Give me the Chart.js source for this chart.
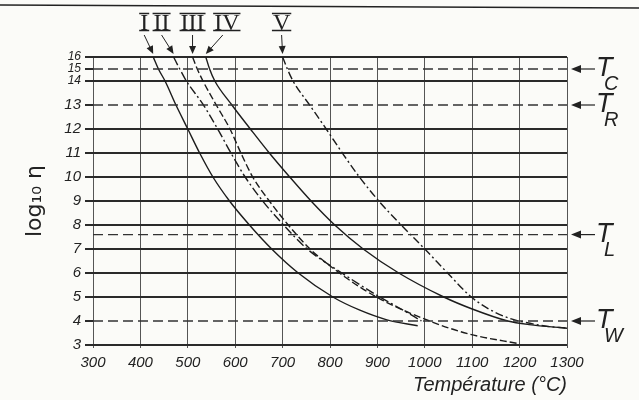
<!DOCTYPE html>
<html>
<head>
<meta charset="utf-8">
<script src="https://cdn.jsdelivr.net/npm/chart.js@4.4.1/dist/chart.umd.min.js"></script>
<style>
  html, body { margin: 0; padding: 0; background: #fbfbf8; }
  #wrap { width: 639px; height: 400px; }
</style>
</head>
<body>
<div id="wrap"><canvas id="viscChart" width="639" height="400"></canvas></div>
<script>
// temperature axis (°C)
const xMin = 300;
const xMax = 1300;
const xStep = 100;

// log10 viscosity ticks (14..16 are drawn at half spacing)
const yTicks = [3, 4, 5, 6, 7, 8, 9, 10, 11, 12, 13, 14, 15, 16];
const yBreak = 14;

// curve labels
const curveNames = ["I", "II", "III", "IV", "V"];

const tempI = [427, 438, 452, 475, 500, 525, 553, 588, 630, 677, 733, 806, 863, 920, 985];
const logI = [16, 15, 14, 13, 12, 11, 10, 9, 8, 7, 6, 5, 4.45, 4.05, 3.8];

const tempII = [470, 483, 497, 533, 563, 591, 621, 658, 702, 752, 825, 905, 950, 993];
const logII = [16, 15, 14, 13, 12, 11, 10, 9, 8, 7, 6, 5, 4.5, 4.0];

const tempIII = [510, 520, 532, 560, 589, 612, 637, 672, 712, 758, 820, 898, 1010, 1095, 1200];
const logIII = [16, 15, 14, 13, 12, 11, 10, 9, 8, 7, 6, 5, 4.0, 3.45, 3.05];

const tempIV = [538, 546, 557, 593, 632, 672, 715, 760, 810, 870, 945, 1040, 1100, 1175, 1220, 1300];
const logIV = [16, 15, 14, 13, 12, 11, 10, 9, 8, 7, 6, 5, 4.5, 4.0, 3.85, 3.7];

const tempV = [700, 710, 722, 757, 792, 826, 862, 903, 950, 1000, 1048, 1098, 1135, 1180, 1210, 1250, 1300];
const logV = [16, 15, 14, 13, 12, 11, 10, 9, 8, 7, 6, 5, 4.5, 4.1, 3.95, 3.8, 3.7];

// characteristic viscosity levels T_C, T_R, T_L, T_W
const refLevels = [15, 13, 7.6, 4];
const refNames = ["C", "R", "L", "W"];

const ink = "#222";
const curveDash = [[], [9, 3, 2, 3], [7, 3], [], [8, 3, 2, 3]];
const labelShift = [-9, -12, 0, 21, -1];

function squash(v) {
  return v <= yBreak ? v : yBreak + (v - yBreak) / 2;
}
function unsquash(v) {
  return v <= yBreak ? v : yBreak + (v - yBreak) * 2;
}

class BrokenScale extends Chart.LinearScale {
  getPixelForValue(value) {
    return super.getPixelForValue(squash(value));
  }
  getValueForPixel(pixel) {
    return unsquash(super.getValueForPixel(pixel));
  }
}
BrokenScale.id = "broken";
BrokenScale.defaults = Chart.LinearScale.defaults;
Chart.register(BrokenScale);

function zip(xs, ys) {
  return xs.map((x, i) => ({ x: x, y: ys[i] }));
}

const curves = [
  { t: tempI, v: logI },
  { t: tempII, v: logII },
  { t: tempIII, v: logIII },
  { t: tempIV, v: logIV },
  { t: tempV, v: logV }
];

const curveSets = curves.map((c, i) => ({
  label: curveNames[i],
  data: zip(c.t, c.v),
  borderColor: "#1c1c1c",
  borderWidth: 1.4,
  borderDash: curveDash[i],
  pointRadius: 0,
  cubicInterpolationMode: "monotone",
  fill: false
}));

const refSets = refLevels.map((lv, i) => ({
  label: "T" + refNames[i],
  data: [{ x: xMin, y: lv }, { x: xMax, y: lv }],
  borderColor: "#333",
  borderWidth: 1.4,
  borderDash: [10, 5],
  pointRadius: 0,
  fill: false
}));

function arrow(ctx, x0, y0, x1, y1, len, half) {
  const a = Math.atan2(y1 - y0, x1 - x0);
  ctx.beginPath();
  ctx.moveTo(x0, y0);
  ctx.lineTo(x1 - Math.cos(a) * len * 0.6, y1 - Math.sin(a) * len * 0.6);
  ctx.stroke();
  ctx.beginPath();
  ctx.moveTo(x1, y1);
  ctx.lineTo(x1 - Math.cos(a) * len + Math.sin(a) * half, y1 - Math.sin(a) * len - Math.cos(a) * half);
  ctx.lineTo(x1 - Math.cos(a) * len - Math.sin(a) * half, y1 - Math.sin(a) * len + Math.cos(a) * half);
  ctx.closePath();
  ctx.fill();
}

const decorations = {
  id: "decorations",
  beforeDraw(chart) {
    const ctx = chart.ctx;
    ctx.save();
    ctx.fillStyle = "#fbfbf8";
    ctx.fillRect(0, 0, chart.width, chart.height);
    ctx.restore();
  },
  afterDraw(chart) {
    const { ctx, scales: { x, y } } = chart;
    ctx.save();
    ctx.strokeStyle = ink;
    ctx.fillStyle = ink;

    // rule across the top of the scanned page
    ctx.lineWidth = 1.6;
    ctx.beginPath();
    ctx.moveTo(0, 5);
    ctx.lineTo(chart.width, 8);
    ctx.stroke();

    // roman numerals with arrows to the start of each curve
    ctx.font = '24px "Liberation Serif"';
    ctx.textAlign = "center";
    ctx.textBaseline = "alphabetic";
    curves.forEach((c, i) => {
      const tipX = x.getPixelForValue(c.t[0]);
      const tipY = y.getPixelForValue(c.v[0]) - 3;
      const lx = tipX + labelShift[i];
      const name = curveNames[i];
      ctx.fillText(name, lx, 30);
      const w = ctx.measureText(name).width;
      ctx.lineWidth = 1.4;
      ctx.beginPath();
      ctx.moveTo(lx - w / 2 - 1, 13.5);
      ctx.lineTo(lx + w / 2 + 1, 13.5);
      ctx.moveTo(lx - w / 2 - 1, 30.5);
      ctx.lineTo(lx + w / 2 + 1, 30.5);
      ctx.stroke();
      ctx.lineWidth = 1;
      const fromX = i === 3 ? lx - 4 : lx;
      arrow(ctx, fromX, 35, tipX, tipY, 8, 3.5);
    });

    // T labels on the right
    refLevels.forEach((lv, i) => {
      const yy = y.getPixelForValue(lv);
      ctx.lineWidth = 1.2;
      arrow(ctx, x.right + 28, yy, x.right + 4, yy, 10, 4);
      ctx.textAlign = "left";
      ctx.font = 'italic 27px "Liberation Sans"';
      ctx.fillText("T", x.right + 29, yy + 7);
      ctx.font = 'italic 20px "Liberation Sans"';
      ctx.fillText(refNames[i], x.right + 37, yy + 21);
    });
    ctx.restore();
  }
};

new Chart(document.getElementById("viscChart"), {
  type: "line",
  data: { datasets: refSets.concat(curveSets) },
  options: {
    responsive: false,
    animation: false,
    events: [],
    layout: { padding: { top: 57, right: 72, left: 0, bottom: 0 } },
    plugins: {
      legend: { display: false },
      tooltip: { enabled: false }
    },
    scales: {
      x: {
        type: "linear",
        min: xMin,
        max: xMax,
        afterFit: (s) => { s.height = 55; },
        ticks: {
          stepSize: xStep,
          color: ink,
          padding: 6,
          callback: (v) => String(v),
          font: { family: "Liberation Sans", style: "italic", size: 15 }
        },
        grid: { color: "#555", lineWidth: 1, tickLength: 3, tickColor: "#555" },
        border: { display: false },
        title: {
          display: true,
          text: "Température (°C)",
          align: "end",
          color: ink,
          padding: { top: 0, bottom: 3 },
          font: { family: "Liberation Sans", style: "italic", size: 20 }
        }
      },
      y: {
        type: "broken",
        min: 3,
        max: squash(16),
        afterFit: (s) => { s.width = 93; },
        afterBuildTicks: (s) => { s.ticks = yTicks.map((v) => ({ value: v })); },
        ticks: {
          autoSkip: false,
          color: ink,
          padding: 4,
          callback: (v) => String(v),
          font: (ctx) => ({
            family: "Liberation Sans",
            style: "italic",
            size: ctx.tick && ctx.tick.value > 13 ? 12 : 15
          })
        },
        grid: {
          lineWidth: 2,
          tickLength: 8,
          tickColor: "#2a2a2a",
          color: (ctx) => (ctx.tick && refLevels.includes(ctx.tick.value) ? "rgba(0,0,0,0)" : "#2a2a2a")
        },
        border: { display: false },
        title: {
          display: true,
          text: "log₁₀ η",
          color: ink,
          padding: { top: 22, bottom: 0 },
          font: { family: "DejaVu Sans", size: 22 }
        }
      }
    }
  },
  plugins: [decorations]
});
</script>
</body>
</html>
